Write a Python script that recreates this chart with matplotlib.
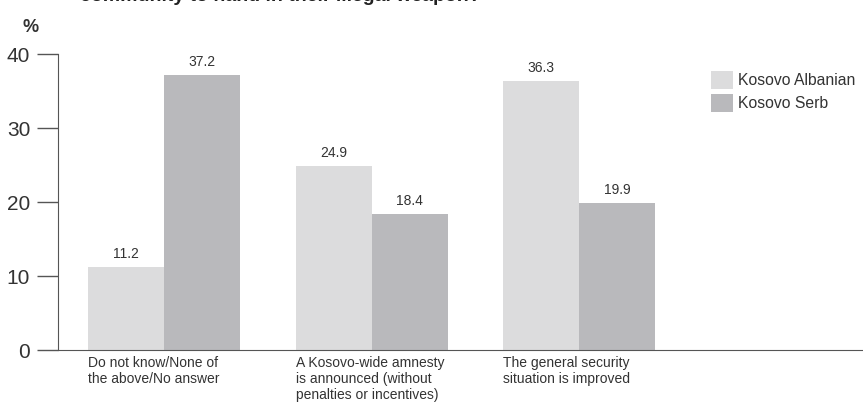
import matplotlib.pyplot as plt
import numpy as np

plt.rcParams["font.family"] = ["Liberation Sans", "DejaVu Sans"]

categories = ["Do not know/None of\nthe above/No answer",
              "A Kosovo-wide amnesty\nis announced (without\npenalties or incentives)",
              "The general security\nsituation is improved"]
albanian = [11.2, 24.9, 36.3]
serb = [37.2, 18.4, 19.9]
series_names = ["Kosovo Albanian", "Kosovo Serb"]

c_alb = "#dcdcdd"
c_serb = "#b9b9bc"
txt = "#333333"

W, H = 863, 416
fig = plt.figure(figsize=(W / 100, H / 100), dpi=100)
ax = fig.add_axes([58 / W, (H - 350) / H, (W - 58) / W, (350 - 54) / H])

x = np.arange(len(categories))
bw = 0.367
b1 = ax.bar(x - bw / 2, albanian, bw, color=c_alb, label=series_names[0])
b2 = ax.bar(x + bw / 2, serb, bw, color=c_serb, label=series_names[1])

# value labels on top of bars
for bars in (b1, b2):
    for b in bars:
        ax.text(b.get_x() + b.get_width() / 2, b.get_height() + 0.8, f"{b.get_height():.1f}",
                ha="center", va="bottom", fontsize=10, color=txt)

ax.set_xlim(-0.512, 3.367)
ax.set_ylim(0, 40)
ax.set_yticks([0, 10, 20, 30, 40])
ax.tick_params(axis="y", length=15, width=1, color="#555555", labelsize=15, labelcolor=txt, pad=5)
ax.set_xticks([])
for s in ["top", "right"]:
    ax.spines[s].set_visible(False)
ax.spines["left"].set_color("#555555")
ax.spines["bottom"].set_color("#555555")

for i, c in enumerate(categories):
    ax.text(x[i] - bw, -0.8, c, ha="left", va="top", fontsize=10, color=txt,
            linespacing=1.2)

ax.legend(loc="upper left", bbox_to_anchor=(711 / W, 1 - 71 / H), bbox_transform=fig.transFigure,
          frameon=False, fontsize=11.3, handlelength=1.4, handleheight=1.4, handletextpad=0.35,
          labelspacing=0.3, labelcolor=txt, borderaxespad=0, borderpad=0)

fig.text(22 / W, 1 - 27 / H, "%", fontsize=13, fontweight="bold", color=txt, ha="left", va="center")
fig.text(80 / W, 1 + 3 / H, "community to hand in their illegal weapon?", fontsize=14,
         fontweight="bold", color="#222222", ha="left", va="center")

fig.savefig("out.png", dpi=100)
